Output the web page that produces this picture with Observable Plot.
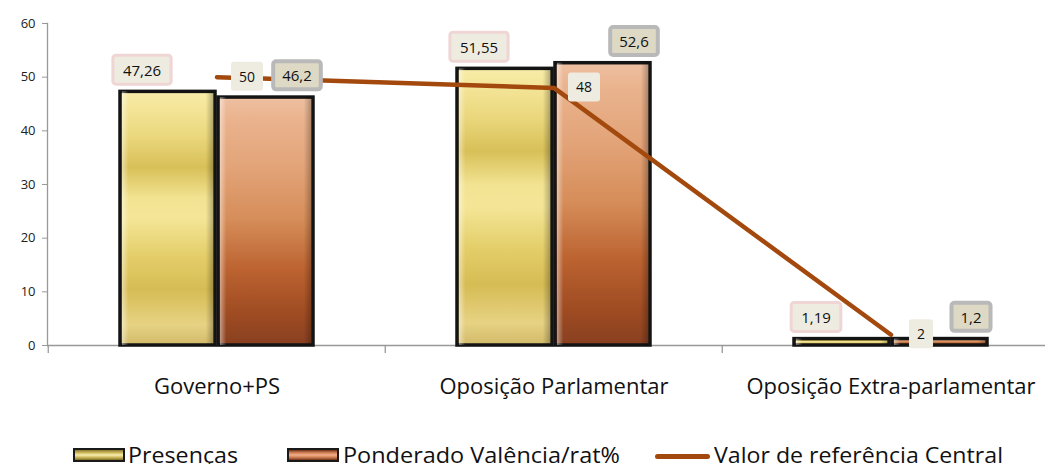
<!DOCTYPE html>
<html><head><meta charset="utf-8">
<script src="https://cdn.jsdelivr.net/npm/d3@7"></script>
<script src="https://cdn.jsdelivr.net/npm/@observablehq/plot@0.6"></script>
<style>
body{margin:0;background:#fff;}
#wrap{position:relative;width:1045px;height:464px;overflow:hidden;}
#legend{position:relative;width:1045px;height:34px;font-family:"Open Sans",sans-serif;font-size:22px;color:#111;}
.item{position:absolute;top:12.5px;line-height:22px;height:22px;white-space:nowrap;transform-origin:0 50%;}
.sw{position:absolute;top:18px;width:48px;height:10px;border:2px solid #1a1a1a;}
.ln{position:absolute;top:23.5px;width:55px;height:5px;border-radius:3px;background:#a3490d;}
</style></head>
<body><div id="wrap"><div id="chart"></div><div id="legend"></div></div>
<script>
const categories = ["Governo+PS", "Oposição Parlamentar", "Oposição Extra-parlamentar"];
const presencas = [47.26, 51.55, 1.19];
const ponderado = [46.2, 52.6, 1.2];
const referencia = [50, 48, 2];
const yTicks = [0, 10, 20, 30, 40, 50, 60];
const seriesNames = ["Presenças", "Ponderado Valência/rat%", "Valor de referência Central"];

const rows = categories.map((c, i) => ({category: c, presencas: presencas[i], ponderado: ponderado[i], referencia: referencia[i]}));
const fmt = v => String(v).replace(".", ",");

const W = 1045, H = 430;
const lineColor = "#a3490d";

const chart = Plot.plot({
  width: W, height: H,
  marginTop: 23, marginBottom: 85, marginLeft: 47, marginRight: 0,
  style: {fontFamily: "'Open Sans', sans-serif", background: "#fff"},
  x: {type: "band", domain: categories, range: [47, 1059.5], padding: 0},
  y: {domain: [0, 60]},
  marks: [
    Plot.axisY({ticks: yTicks, tickSize: 5, tickPadding: 7, fontSize: 13, stroke: "#999", color: "#222", label: null}),
    Plot.axisX({tickSize: 0, tickPadding: 33, fontSize: 22, color: "#111", label: null}),
    Plot.frame({anchor: "left", stroke: "#999", strokeWidth: 1.3}),
    Plot.ruleX(categories, {x: d => d, dx: -168.75, y1: 0, y2: 0, insetBottom: -8, stroke: "#999", strokeWidth: 1.3}),
    Plot.ruleY([0], {stroke: "#999", strokeWidth: 1.5}),
    // Presenças bars
    Plot.barY(rows, {x: "category", y: "presencas", fill: "url(#gPres)", stroke: "#141414", strokeWidth: 3.5, insetLeft: 72, insetRight: 170}),
    Plot.barY(rows, {x: "category", y: "presencas", fill: "url(#gShade)", insetLeft: 74, insetRight: 172}),
    // Ponderado bars
    Plot.barY(rows, {x: "category", y: "ponderado", fill: "url(#gPond)", stroke: "#141414", strokeWidth: 3.5, insetLeft: 170, insetRight: 72}),
    Plot.barY(rows, {x: "category", y: "ponderado", fill: "url(#gShade)", insetLeft: 172, insetRight: 74}),
    // reference line
    Plot.line(rows, {x: "category", y: "referencia", stroke: lineColor, strokeWidth: 4.5, strokeLinecap: "round", strokeLinejoin: "round"}),
    // labels
    Plot.text(rows, {x: "category", y: "presencas", text: d => fmt(d.presencas), dx: -75, dy: -21, fontSize: 15, fill: "#111", className: "lbl-pres"}),
    Plot.text(rows, {x: "category", y: "ponderado", text: d => fmt(d.ponderado), dx: 80, dy: -21, fontSize: 15, fill: "#111", className: "lbl-pond"}),
    Plot.text(rows, {x: "category", y: "referencia", text: d => fmt(d.referencia), dx: 30, dy: 0, fontSize: 14, fill: "#111", className: "lbl-line"})
  ]
});
document.getElementById("chart").appendChild(chart);

const svg = d3.select(chart);
const defs = svg.insert("defs", ":first-child");
function vgrad(id, stops) {
  const g = defs.append("linearGradient").attr("id", id).attr("x1", 0).attr("y1", 0).attr("x2", 0).attr("y2", 1);
  stops.forEach(([o, c, op]) => g.append("stop").attr("offset", o).attr("stop-color", c).attr("stop-opacity", op == null ? 1 : op));
}
vgrad("gPres", [[0, "#f7eca8"], [0.05, "#f5e79c"], [0.18, "#ead77c"], [0.3, "#d8c058"], [0.42, "#f2e392"], [0.5, "#f4e697"], [0.65, "#e4ce6a"], [0.78, "#d6bc54"], [0.92, "#e6d283"], [1, "#d2ba6a"]]);
vgrad("gPond", [[0, "#eec0a2"], [0.08, "#eab48f"], [0.3, "#e2a276"], [0.5, "#d58c58"], [0.7, "#bb6230"], [0.88, "#9e4b22"], [1, "#884020"]]);
const hs = defs.append("linearGradient").attr("id", "gShade").attr("x1", 0).attr("y1", 0).attr("x2", 1).attr("y2", 0);
[[0, "#fff", 0.45], [0.07, "#fff", 0.0], [0.92, "#000", 0.0], [1, "#000", 0.25]].forEach(([o, c, op]) => hs.append("stop").attr("offset", o).attr("stop-color", c).attr("stop-opacity", op));

function boxes(cls, padX, h, fill, stroke, sw) {
  svg.selectAll(`g.${cls} text`).each(function() {
    const b = this.getBBox();
    const cy = b.y + b.height / 2;
    d3.select(this.parentNode).insert("rect", () => this)
      .attr("transform", this.getAttribute("transform"))
      .attr("x", b.x - padX).attr("y", cy - h / 2)
      .attr("width", b.width + 2 * padX).attr("height", h)
      .attr("rx", 3).attr("fill", fill)
      .attr("stroke", stroke || "none").attr("stroke-width", sw || 0);
  });
}
boxes("lbl-pres", 10, 29, "#eeece1", "#f0d5d5", 3);
boxes("lbl-pond", 9, 28, "#ddd9c4", "#b9b9b9", 4);
boxes("lbl-line", 8, 29, "#eeece1", null, 0);

// legend
const legend = d3.select("#legend");
function legendText(left, label, targetWidth) {
  const el = legend.append("div").attr("class", "item").style("left", left + "px").text(label).node();
  const w = el.getBoundingClientRect().width;
  el.style.transform = `scaleX(${targetWidth / w})`;
}
legend.append("div").attr("class", "sw").style("left", "73px")
  .style("background", "linear-gradient(to bottom, #8a7a30 0%, #c9b456 25%, #f8efb0 50%, #c9b456 75%, #7c6c28 100%)");
legendText(128, seriesNames[0], 110);
legend.append("div").attr("class", "sw").style("left", "287px")
  .style("background", "linear-gradient(to bottom, #6e3218 0%, #c97a50 25%, #f4b08a 50%, #c97a50 75%, #6e3218 100%)");
legendText(343, seriesNames[1], 277);
legend.append("div").attr("class", "ln").style("left", "655px");
legendText(714, seriesNames[2], 289);
</script>
</body></html>
